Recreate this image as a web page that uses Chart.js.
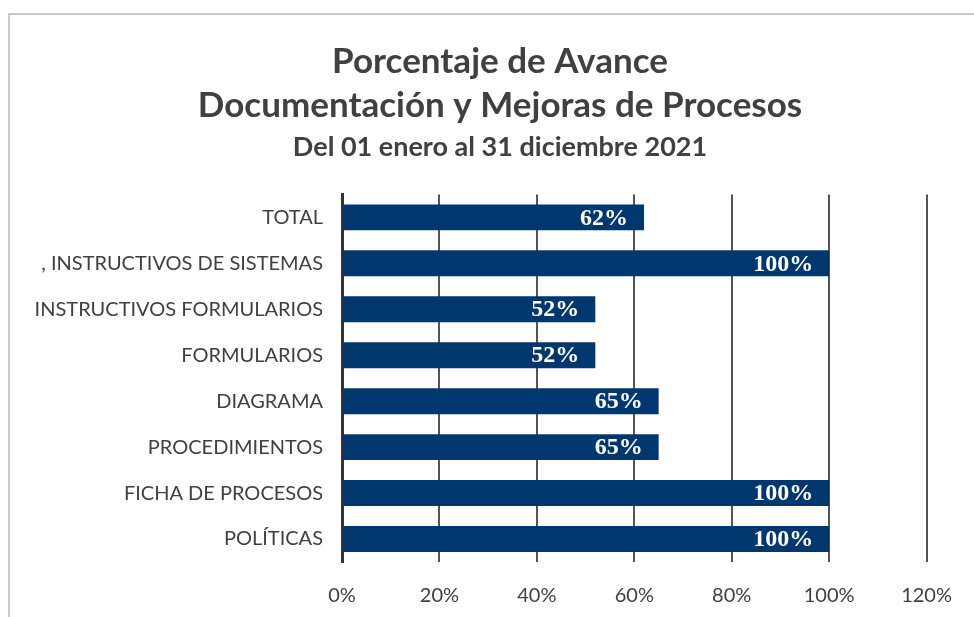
<!DOCTYPE html>
<html>

<head>
    <title>Porcentaje de Avance</title>
    <script src="https://cdn.jsdelivr.net/npm/chart.js@4"></script>

    <style type="text/css">
        html,
        body {
            margin: 0;
            padding: 0;
            background-color: #ffffff;
            overflow: hidden;
        }

        #frame {
            position: absolute;
            left: 8px;
            top: 13px;
            width: 1000px;
            height: 700px;
            border: 2px solid #c9c9c9;
        }

        #chartAvance {
            position: absolute;
            left: 0;
            top: 0;
        }
    </style>
</head>

<body>
    <div id="frame"></div>
    <canvas id="chartAvance" width="974" height="617"></canvas>

    <script>
        const categories = [
            "TOTAL",
            ", INSTRUCTIVOS DE SISTEMAS",
            "INSTRUCTIVOS FORMULARIOS",
            "FORMULARIOS",
            "DIAGRAMA",
            "PROCEDIMIENTOS",
            "FICHA DE PROCESOS",
            "POLÍTICAS"
        ];
        const avance = [62, 100, 52, 52, 65, 65, 100, 100];
        const xTicks = [0, 20, 40, 60, 80, 100, 120];

        const textColor = "#404040";

        // white percent labels at the end of each bar
        const barLabels = {
            id: "barLabels",
            afterDatasetsDraw(chart) {
                let ctx = chart.ctx;
                let meta = chart.getDatasetMeta(0);
                ctx.save();
                ctx.font = "bold 24px 'Liberation Serif'";
                ctx.fillStyle = "#ffffff";
                ctx.textAlign = "right";
                ctx.textBaseline = "middle";
                meta.data.forEach(function(bar, i) {
                    ctx.fillText(avance[i] + "%", bar.x - 16, bar.y + 1);
                });
                ctx.restore();
            }
        };

        window.onload = function() {
            let ctx = document.getElementById("chartAvance").getContext("2d");

            new Chart(ctx, {
                type: "bar",
                data: {
                    labels: categories,
                    datasets: [{
                        label: "Avance",
                        data: avance,
                        backgroundColor: "#00376f",
                        barPercentage: 0.565,
                        categoryPercentage: 1
                    }]
                },
                options: {
                    indexAxis: "y",
                    responsive: false,
                    animation: false,
                    layout: {
                        // left padding pushes the title centre to ~500px
                        padding: { left: 70, right: 44, top: 40, bottom: 0 }
                    },
                    plugins: {
                        legend: { display: false },
                        tooltip: { enabled: false },
                        title: {
                            display: true,
                            text: ["Porcentaje de Avance", "Documentación y Mejoras de Procesos"],
                            color: textColor,
                            font: { family: "Lato", size: 35, weight: "bold", lineHeight: 1.257 },
                            padding: { top: 0, bottom: 0 }
                        },
                        subtitle: {
                            display: true,
                            text: "Del 01 enero al 31 diciembre 2021",
                            color: textColor,
                            font: { family: "Lato", size: 27, weight: "bold", lineHeight: 1.2 },
                            padding: { top: 3, bottom: 31 }
                        }
                    },
                    scales: {
                        x: {
                            min: 0,
                            max: 120,
                            afterBuildTicks: function(scale) {
                                scale.ticks = xTicks.map(v => ({ value: v }));
                            },
                            afterFit: function(scale) {
                                scale.height = 55;
                            },
                            ticks: {
                                color: textColor,
                                padding: 22,
                                font: { family: "Lato", size: 20 },
                                callback: v => v + "%"
                            },
                            grid: {
                                color: "#555555",
                                lineWidth: 2,
                                drawTicks: false
                            },
                            border: { display: false }
                        },
                        y: {
                            afterFit: function(scale) {
                                scale.width = 272;
                                // long labels run past the padded box, don't clip them
                                scale._computeLabelArea = function() { return null; };
                            },
                            ticks: {
                                color: textColor,
                                padding: 19,
                                font: { family: "Lato", size: 20 }
                            },
                            grid: { display: false, drawTicks: false },
                            border: { display: true, color: "#333333", width: 3 }
                        }
                    }
                },
                plugins: [barLabels]
            });
        }
    </script>
</body>

</html>
